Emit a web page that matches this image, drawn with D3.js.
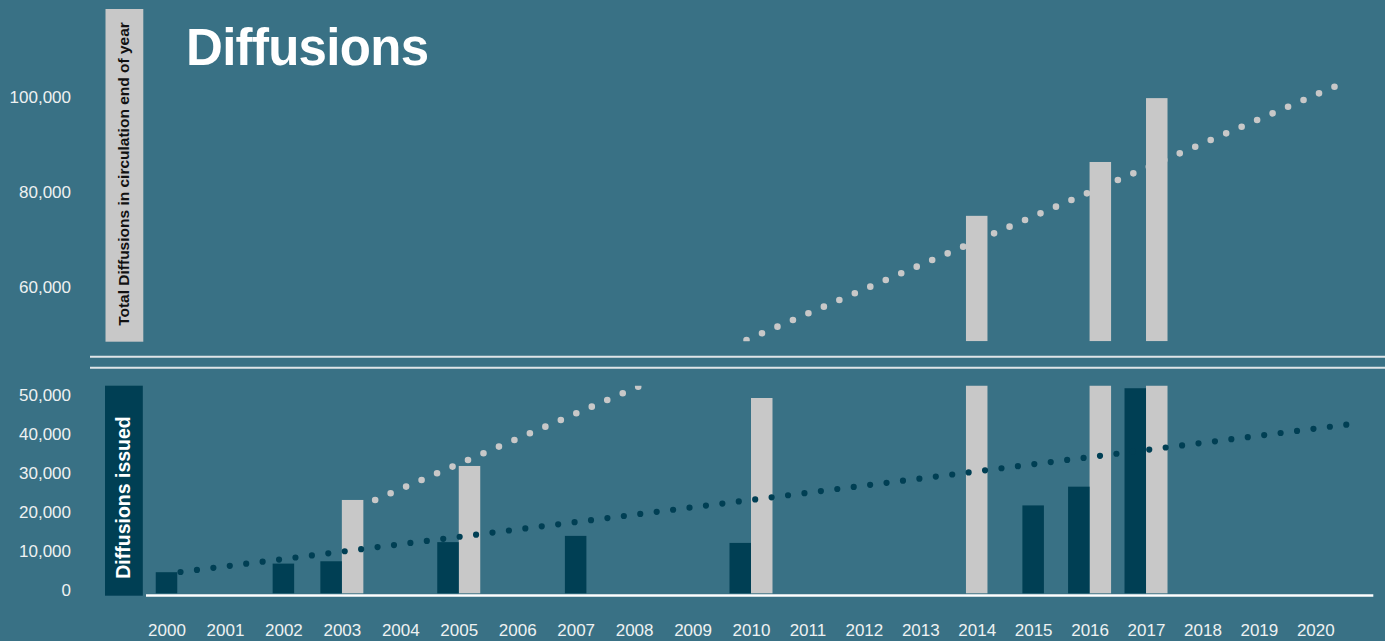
<!DOCTYPE html>
<html>
<head>
<meta charset="utf-8">
<script src="https://cdn.jsdelivr.net/npm/d3@7"></script>
<style>
  html, body { margin: 0; padding: 0; background: #397185; }
  svg { display: block; }
  text { font-family: "Liberation Sans", Arial, sans-serif; }
</style>
</head>
<body>
<svg id="chart" width="1385" height="641"></svg>
<script>
// ---- data ----
const years = d3.range(2000, 2021);

const issuedYears  = [2000, 2002, 2003, 2005, 2007, 2010, 2015, 2016, 2017];
const issuedValues = [5400, 7600, 8200, 13100, 14700, 12900, 22500, 27300, 52500];

const circulationYears  = [2003, 2005, 2010, 2014, 2016, 2017];
const circulationValues = [23900, 32600, 50000, 75000, 86300, 99700];

const lowerTicks = [0, 10000, 20000, 30000, 40000, 50000];
const upperTicks = [60000, 80000, 100000];

// dotted trend lines: start / end as (year, value)
const issuedTrendYears  = [2000.24, 2020.84];
const issuedTrendValues = [5450, 43700];
// circulation trend starts on the lower (issued) scale and ends on the upper scale
const circulationTrendYears  = [2003.57, 2020.34];
const circulationTrendValues = [23900, 102100];

const titleText = "Diffusions";
const upperLabel = "Total Diffusions in circulation end of year";
const lowerLabel = "Diffusions issued";

// ---- layout ----
const W = 1385, H = 641;
const colors = {
  bg: "#397185",
  dark: "#003f54",
  light: "#c8c8c8",
  text: "#eef1f2",
  rule: "#dfe5e8"
};
const lowerTop = 385.7, lowerBottom = 593.3;
const upperTop = 9, upperBottom = 341.3;
const barW = 21.5;

const svg = d3.select("#chart");
svg.append("rect").attr("width", W).attr("height", H).attr("fill", colors.bg);

// scales
const x = d3.scaleLinear().domain([2000, 2010, 2020]).range([166.5, 751, 1315.3]);
const yLower = d3.scaleLinear().domain([0, 50000]).range([lowerBottom, lowerBottom - 195.3]);
const yUpper = d3.scaleLinear().domain([60000, 100000]).range([287.3, 96.7]);
const lowerMax = yLower.invert(lowerTop);

const defs = svg.append("defs");
defs.append("clipPath").attr("id", "clipLower")
  .append("rect").attr("x", 0).attr("y", lowerTop).attr("width", W).attr("height", lowerBottom - lowerTop + 5);
defs.append("clipPath").attr("id", "clipUpper")
  .append("rect").attr("x", 0).attr("y", 0).attr("width", W).attr("height", upperBottom);

// series records
const issued = issuedYears.map((y, i) => ({ year: y, value: issuedValues[i] }));
const circulation = circulationYears.map((y, i) => ({ year: y, value: circulationValues[i] }));
const hasIssued = new Set(issuedYears);
const hasCirc = new Set(circulationYears);

// bar x placement: side by side when both series exist for a year, centred otherwise
function barX(d, kind) {
  const c = x(d.year);
  const both = hasIssued.has(d.year) && hasCirc.has(d.year);
  if (!both) return c - barW / 2;
  return kind === "dark" ? c - barW : c;
}

// side label boxes
svg.append("rect").attr("x", 105.5).attr("y", upperTop).attr("width", 37.8)
  .attr("height", upperBottom + 0.4 - upperTop).attr("fill", colors.light);
svg.append("text")
  .attr("transform", "translate(123,174) rotate(-90)")
  .attr("text-anchor", "middle").attr("dominant-baseline", "central")
  .attr("font-size", 15.5).attr("font-weight", "bold").attr("fill", "#111")
  .text(upperLabel);

svg.append("rect").attr("x", 105).attr("y", lowerTop).attr("width", 37.8)
  .attr("height", 595.7 - lowerTop).attr("fill", colors.dark);
svg.append("text")
  .attr("transform", "translate(123,497.5) rotate(-90)")
  .attr("text-anchor", "middle").attr("dominant-baseline", "central")
  .attr("font-size", 19.5).attr("font-weight", "bold").attr("fill", "#ffffff")
  .text(lowerLabel);

// dotted line helper
function dottedLine(g, p0, p1, color, width, gap) {
  const L = Math.hypot(p1[0] - p0[0], p1[1] - p0[1]);
  const n = Math.max(1, Math.round(L / gap));
  g.append("path")
    .attr("d", d3.line()([p0, p1]))
    .attr("fill", "none")
    .attr("stroke", color)
    .attr("stroke-width", width)
    .attr("stroke-linecap", "round")
    .attr("stroke-dasharray", `0 ${L / n}`);
}

// circulation trend (behind bars), split across both panels
const cStart = [x(circulationTrendYears[0]), yLower(circulationTrendValues[0])];
const cEnd = [x(circulationTrendYears[1]), yUpper(circulationTrendValues[1])];
dottedLine(svg.append("g").attr("clip-path", "url(#clipLower)"), cStart, cEnd, colors.light, 6.6, 16.8);
dottedLine(svg.append("g").attr("clip-path", "url(#clipUpper)"), cStart, cEnd, colors.light, 6.6, 16.8);

// circulation bars, lower panel
svg.append("g").attr("clip-path", "url(#clipLower)")
  .selectAll("rect").data(circulation).join("rect")
  .attr("x", d => barX(d, "light"))
  .attr("width", barW)
  .attr("y", d => yLower(d.value))
  .attr("height", d => lowerBottom - yLower(d.value))
  .attr("fill", colors.light);

// circulation bars that overflow the lower panel continue in the upper panel
svg.append("g").attr("clip-path", "url(#clipUpper)")
  .selectAll("rect").data(circulation.filter(d => d.value > lowerMax)).join("rect")
  .attr("x", d => barX(d, "light"))
  .attr("width", barW)
  .attr("y", d => yUpper(d.value))
  .attr("height", d => upperBottom - yUpper(d.value))
  .attr("fill", colors.light);

// issued bars
svg.append("g")
  .selectAll("rect").data(issued).join("rect")
  .attr("x", d => barX(d, "dark"))
  .attr("width", barW)
  .attr("y", d => yLower(d.value))
  .attr("height", d => lowerBottom - yLower(d.value))
  .attr("fill", colors.dark);

// issued trend (on top)
dottedLine(svg.append("g"),
  [x(issuedTrendYears[0]), yLower(issuedTrendValues[0])],
  [x(issuedTrendYears[1]), yLower(issuedTrendValues[1])],
  colors.dark, 6.2, 16.45);

// baseline
svg.append("line").attr("x1", 146).attr("x2", 1373.3).attr("y1", 595.5).attr("y2", 595.5)
  .attr("stroke", "#ffffff").attr("stroke-width", 2.5);

// axis break rules
[356.7, 367.7].forEach(yy => {
  svg.append("line").attr("x1", 90).attr("x2", W).attr("y1", yy).attr("y2", yy)
    .attr("stroke", colors.rule).attr("stroke-width", 2);
});

// axes
function styleAxis(g) {
  g.select(".domain").remove();
  g.selectAll(".tick line").remove();
  g.selectAll("text")
    .attr("font-family", "'Liberation Sans', Arial, sans-serif")
    .attr("font-size", 17)
    .attr("fill", colors.text);
}
svg.append("g").attr("transform", "translate(71,-3)")
  .call(d3.axisLeft(yLower).tickValues(lowerTicks).tickFormat(d3.format(",")).tickSize(0).tickPadding(0))
  .call(styleAxis);
svg.append("g").attr("transform", "translate(71,0)")
  .call(d3.axisLeft(yUpper).tickValues(upperTicks).tickFormat(d3.format(",")).tickSize(0).tickPadding(0))
  .call(styleAxis);
svg.append("g").attr("transform", "translate(0,624)")
  .call(d3.axisBottom(x).tickValues(years).tickFormat(d3.format("d")).tickSize(0).tickPadding(0))
  .call(styleAxis);

// title
svg.append("text")
  .attr("x", 186).attr("y", 65)
  .attr("font-size", 51).attr("font-weight", "bold")
  .attr("letter-spacing", -0.7)
  .attr("fill", "#ffffff")
  .text(titleText);
</script>
</body>
</html>
